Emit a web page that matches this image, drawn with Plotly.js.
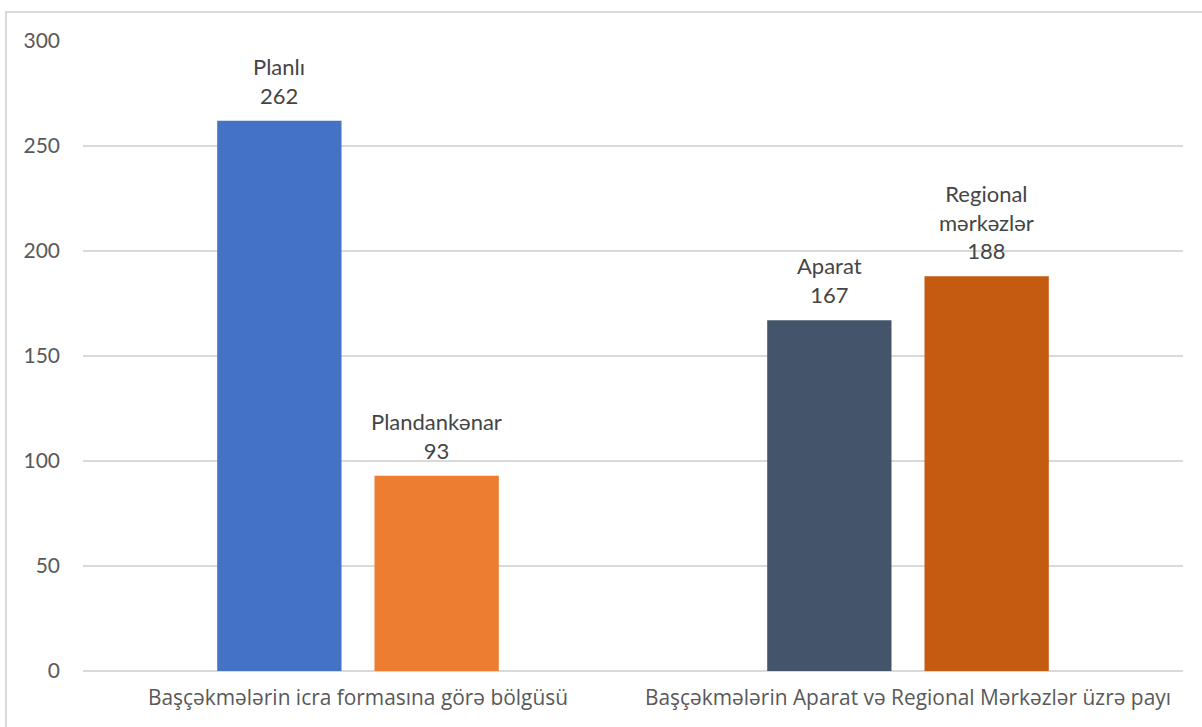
<!DOCTYPE html>
<html>
<head>
<meta charset="utf-8">
<script src="https://cdn.plot.ly/plotly-3.0.1.min.js"></script>
<style>
html,body{margin:0;padding:0;overflow:hidden;background:#fff;}
#frame{position:absolute;left:5px;top:11px;width:1400px;height:900px;border:2px solid #d9d9d9;pointer-events:none;z-index:2;}
#chart{position:absolute;left:0;top:0;width:1202px;height:727px;}
</style>
</head>
<body>
<div id="chart"></div>
<div id="frame"></div>
<script>
const categories = ["Başçəkmələrin icra formasına görə bölgüsü", "Başçəkmələrin Aparat və Regional Mərkəzlər üzrə payı"];
const firstNames = ["Planlı", "Aparat"];
const firstValues = [262, 167];
const secondNames = ["Plandankənar", "Regional<br>mərkəzlər"];
const secondValues = [93, 188];
const firstColors = ["#4472C4", "#44546A"];
const secondColors = ["#ED7D31", "#C55A11"];
const yTicks = [0, 50, 100, 150, 200, 250, 300];

// bar geometry in category units
const slot = 0.286, barW = 0.226;
const labelFont = {family: "Lato, 'Open Sans', sans-serif", size: 22, color: "#454545"};

const traces = [
  {type: "bar", x: categories, y: firstValues, marker: {color: firstColors},
   width: barW, offset: -slot + (slot - barW) / 2, hoverinfo: "skip"},
  {type: "bar", x: categories, y: secondValues, marker: {color: secondColors},
   width: barW, offset: (slot - barW) / 2, hoverinfo: "skip"}
];

const annotations = [];
categories.forEach((c, i) => {
  annotations.push({x: i - slot / 2, y: firstValues[i], xref: "x", yref: "y",
    text: firstNames[i] + "<br>" + firstValues[i], showarrow: false,
    yanchor: "bottom", yshift: 10, font: labelFont});
  annotations.push({x: i + slot / 2, y: secondValues[i], xref: "x", yref: "y",
    text: secondNames[i] + "<br>" + secondValues[i], showarrow: false,
    yanchor: "bottom", yshift: 10, font: labelFont});
});

const layout = {
  width: 1202, height: 727,
  margin: {l: 83, r: 19, t: 41, b: 56},
  paper_bgcolor: "#fff", plot_bgcolor: "#fff",
  showlegend: false,
  annotations: annotations,
  font: {family: "Lato, 'Open Sans', sans-serif", size: 19, color: "#595959"},
  xaxis: {type: "category", range: [-0.5, 1.5], showgrid: false, showline: false, zeroline: false, ticks: "",
          ticklabelstandoff: 12, tickfont: {family: "'Open Sans', sans-serif", size: 20.9, color: "#595959"}},
  yaxis: {range: [0, 300], tickvals: yTicks, showgrid: true, gridcolor: "#d9d9d9", gridwidth: 1.5,
          zeroline: true, zerolinecolor: "#d9d9d9", zerolinewidth: 1.5, showline: false, ticks: "",
          ticklabelstandoff: 22, tickfont: {size: 21, color: "#595959"}}
};

Plotly.newPlot("chart", traces, layout, {staticPlot: true, displayModeBar: false});
</script>
</body>
</html>
